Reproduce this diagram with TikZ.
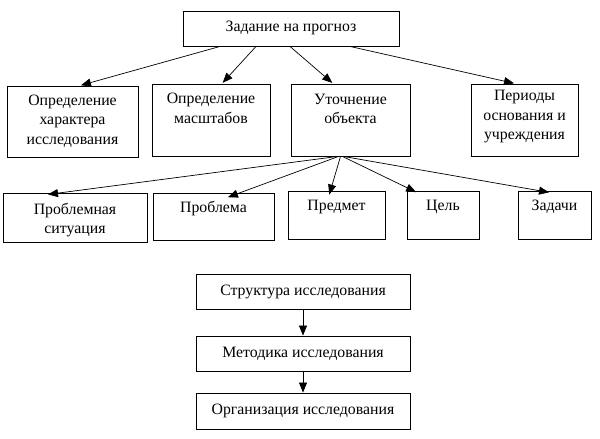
\documentclass[tikz,border=0pt]{standalone}
\usepackage{fontspec}
\setmainfont{Liberation Serif}
\usetikzlibrary{arrows.meta}
\begin{document}
\begin{tikzpicture}[x=1pt,y=-1pt,
  box/.style={draw=black,line width=0.9pt,inner sep=0pt},
  txt/.style={align=center,inner sep=0pt,font=\fontsize{15.8}{19.5}\selectfont},
  arr/.style={draw=black,line width=0.7pt,-{Triangle[length=10pt,width=8pt]},shorten >=1pt}]
\useasboundingbox (0,0) rectangle (600,439);
% boxes
\node[box,minimum width=216pt,minimum height=35pt] (top) at (291,28.5) {};
\node[box,minimum width=131pt,minimum height=71pt] (b1) at (72.5,121.5) {};
\node[box,minimum width=118pt,minimum height=72pt] (b2) at (211,120) {};
\node[box,minimum width=119pt,minimum height=72pt] (b3) at (350.5,120) {};
\node[box,minimum width=107pt,minimum height=72pt] (b4) at (524.5,120) {};
\node[box,minimum width=144pt,minimum height=49pt] (c1) at (75,217.5) {};
\node[box,minimum width=121pt,minimum height=47pt] (c2) at (213.5,216.5) {};
\node[box,minimum width=97pt,minimum height=48pt] (c3) at (336.5,215) {};
\node[box,minimum width=72pt,minimum height=48pt] (c4) at (443,215) {};
\node[box,minimum width=73pt,minimum height=48pt] (c5) at (554.5,215) {};
\node[box,minimum width=214pt,minimum height=35pt] (d1) at (303,291.5) {};
\node[box,minimum width=214pt,minimum height=35pt] (d2) at (303,353.5) {};
\node[box,minimum width=214pt,minimum height=36pt] (d3) at (303,411) {};
% texts
\node[txt] (topt) at (291,28) {Задание на прогноз};
\node[txt] (b1t) at (72.5,121) {Определение\\характера\\исследования};
\node[txt] (b2t) at (211,108.5) {Определение\\масштабов};
\node[txt] (b3t) at (350.5,109) {Уточнение\\объекта};
\node[txt] (b4t) at (524.5,117) {Периоды\\основания и\\учреждения};
\node[txt] (c1t) at (75,220) {Проблемная\\ситуация};
\node[txt] (c2t) at (213.5,209) {Проблема};
\node[txt] (c3t) at (336.5,207) {Предмет};
\node[txt] (c4t) at (443,207) {Цель};
\node[txt] (c5t) at (554.5,207) {Задачи};
\node[txt] (d1t) at (303,291.5) {Структура исследования};
\node[txt] (d2t) at (303,353.5) {Методика исследования};
\node[txt] (d3t) at (303,411) {Организация исследования};
% arrows from top
\draw[arr] ([xshift=-71pt]top.south) -- ([xshift=7.5pt]b1.north);
\draw[arr] ([xshift=-35pt]top.south) -- ([xshift=11pt]b2.north);
\draw[arr] ([xshift=-1pt]top.south) -- ([xshift=-17.5pt]b3.north);
\draw[arr] ([xshift=59pt]top.south) -- ([xshift=-9.5pt]b4.north);
% fan from b3
\draw[arr] ([xshift=-13pt]b3.south) -- ([xshift=-28pt,yshift=-2pt]c1.north);
\draw[arr] ([xshift=-12pt]b3.south) -- ([xshift=13.5pt,yshift=-5pt]c2.north);
\draw[arr] ([xshift=-10pt]b3.south) -- ([xshift=-7.5pt,yshift=-5pt]c3.north);
\draw[arr] ([xshift=-8pt]b3.south) -- ([xshift=-26pt,yshift=-2pt]c4.north);
\draw[arr] ([xshift=-7pt]b3.south) -- ([xshift=-4.5pt,yshift=-2pt]c5.north);
% bottom chain
\draw[arr,shorten >=0pt] (d1) -- (d2);
\draw[arr,shorten >=0pt] (d2) -- (d3);
\end{tikzpicture}
\end{document}
